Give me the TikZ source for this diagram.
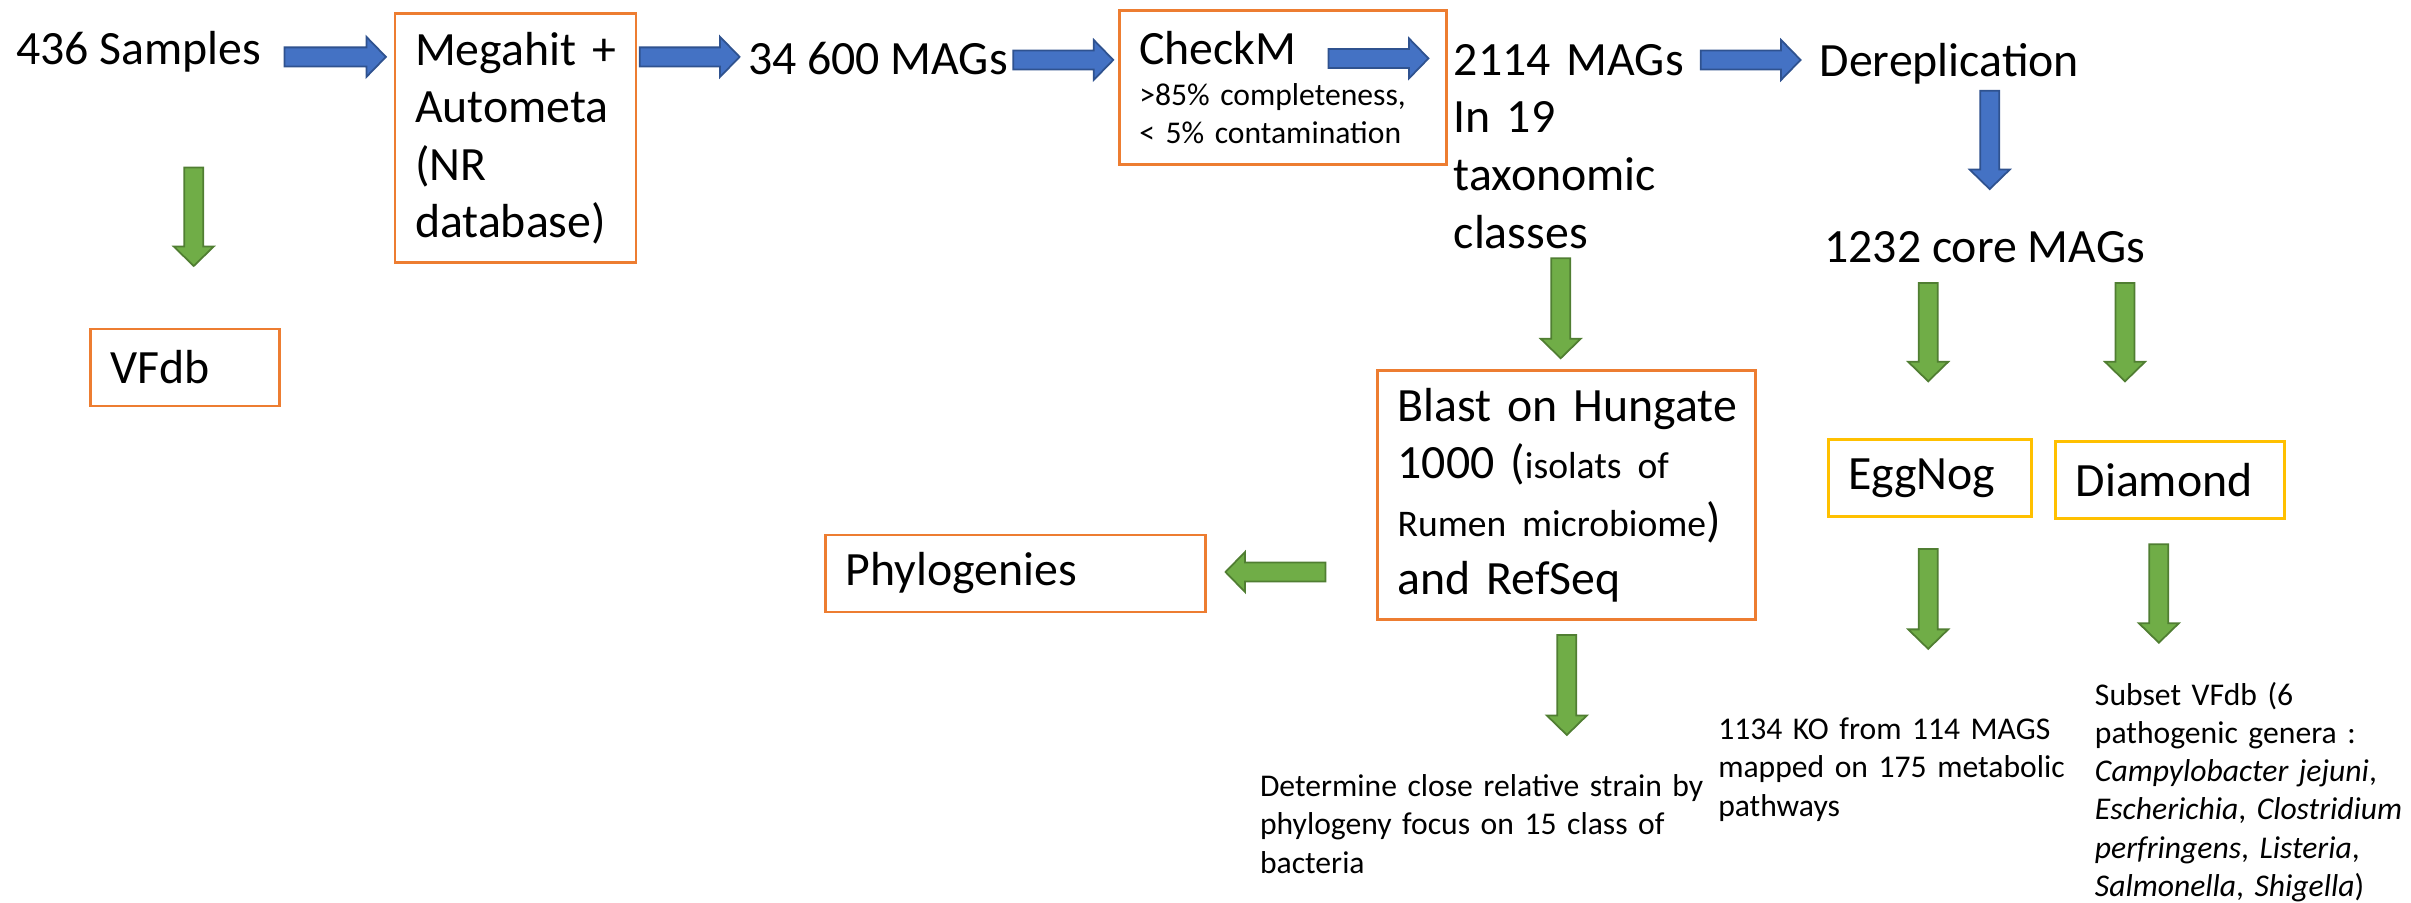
\documentclass[tikz,border=0pt]{standalone}
\usepackage{fontspec}
\setmainfont{Carlito}
\usetikzlibrary{calc,positioning}

\definecolor{boxorange}{HTML}{ED7D31}
\definecolor{boxgold}{HTML}{FFC000}
\definecolor{flowblue}{HTML}{4472C4}
\definecolor{flowblueedge}{HTML}{2F528F}
\definecolor{flowgreen}{HTML}{70AD47}
\definecolor{flowgreenedge}{HTML}{507E32}

\newcommand{\bigsize}{\fontsize{13.6pt}{16.4pt}\selectfont}
\newcommand{\midsize}{\fontsize{10.7pt}{12.8pt}\selectfont}
\newcommand{\notesize}{\fontsize{9pt}{10.9pt}\selectfont}
\newcommand{\shafthalf}{0.95mm}
\newcommand{\headhalf}{2mm}
\newcommand{\headlen}{1.95mm}

\tikzset{
	blockarrow/.style={line width=0.5pt, to path={
			($(\tikztostart)!\shafthalf!90:(\tikztotarget)$)
			-- ($(\tikztotarget)!\headlen!(\tikztostart)!\shafthalf!-90:(\tikztostart)$)
			-- ($(\tikztotarget)!\headlen!(\tikztostart)!\headhalf!-90:(\tikztostart)$)
			-- (\tikztotarget)
			-- ($(\tikztotarget)!\headlen!(\tikztostart)!\headhalf!90:(\tikztostart)$)
			-- ($(\tikztotarget)!\headlen!(\tikztostart)!\shafthalf!90:(\tikztostart)$)
			-- ($(\tikztostart)!\shafthalf!-90:(\tikztotarget)$)
			-- cycle}},
	bluearrow/.style={blockarrow, fill=flowblue, draw=flowblueedge},
	greenarrow/.style={blockarrow, fill=flowgreen, draw=flowgreenedge},
	flowtext/.style={font=\bigsize, anchor=base west, inner sep=0pt, align=left},
	note/.style={font=\notesize, anchor=base west, inner sep=0pt, align=left},
	stage/.style={draw=boxorange, line width=0.8pt, anchor=north west, align=left,
		inner xsep=2mm, inner ysep=0pt, font=\bigsize}
}

\begin{document}
\begin{tikzpicture}[x=0.15376mm, y=-0.15376mm]
	\useasboundingbox (0,0) rectangle (1568,587);
	
	%% -- Top row
	\node[flowtext] (samples) at (10,42) {436 Samples};
	
	\node[stage, minimum width=24.1mm, text width=20.1mm,
	minimum height=24.9mm] (megahit) at (256,8)
	{Megahit +\\Autometa\\(NR\\database)};
	
	\node[flowtext] (mags) at (486,48.5) {34 600 MAGs};
	
	\node[stage, minimum width=32.75mm, text width=28.75mm,
	minimum height=15.4mm, font=\notesize] (checkm) at (727,6)
	{{\bigsize CheckM}\\[0.9pt]>85\% completeness,\\< 5\% contamination};
	
	\node[flowtext, text width=25mm] (classes) at (945,49)
	{2114 MAGs\\In 19\\taxonomic\\classes};
	
	\node[flowtext] (derep) at (1183,50) {Dereplication};
	
	\node[flowtext] (core) at (1186,171) {1232 core MAGs};
	
	%% -- Left branch
	\node[stage, minimum width=18.9mm, text width=14.9mm,
	minimum height=7.7mm] (vfdb) at (58,213) {VFdb};
	
	%% -- Middle branch
	\node[stage, minimum width=37.8mm, text width=33.8mm,
	minimum height=24.9mm] (blast) at (895,240)
	{\mbox{Blast on Hungate}\\\mbox{1000 ({\midsize isolats of}}\\
		\mbox{{\midsize Rumen microbiome})}\\\mbox{and RefSeq}};
	
	\node[stage, minimum width=38mm, text width=34mm,
	minimum height=7.7mm] (phylo) at (536,347) {Phylogenies};
	
	\node[note, text width=48mm] (strain) at (819,518)
	{Determine close relative strain by\\phylogeny focus on 15 class of\\bacteria};
	
	%% -- Right branch
	\node[stage, draw=boxgold, minimum width=20.3mm, text width=16.3mm,
	minimum height=7.7mm] (eggnog) at (1188,285) {EggNog};
	
	\node[stage, draw=boxgold, minimum width=22.9mm, text width=18.9mm,
	minimum height=7.7mm] (diamond) at (1336,286) {Diamond};
	
	\node[note, text width=40mm] (kegg) at (1117,481)
	{1134 KO from 114 MAGS\\mapped on 175 metabolic\\pathways};
	
	\node[note, text width=34mm] (subset) at (1362,458.5)
	{Subset VFdb (6\\pathogenic genera :\\\textit{Campylobacter jejuni},\\
		\textit{Escherichia}, \textit{Clostridium}\\\textit{perfringens}, \textit{Listeria},\\
		\textit{Salmonella}, \textit{Shigella})};
	
	%% -- Arrow end points
	\coordinate (samples-out) at (185,37);    \coordinate (megahit-in) at (251,37);
	\coordinate (megahit-out) at (416,37);    \coordinate (mags-in) at (481,37);
	\coordinate (mags-out) at (659,39);       \coordinate (checkm-in) at (724,39);
	\coordinate (checkm-out) at (864,38);     \coordinate (classes-in) at (929,38);
	\coordinate (classes-out) at (1106,39);   \coordinate (derep-in) at (1171,39);
	\coordinate (derep-out) at (1294,59);     \coordinate (core-in) at (1294,123);
	\coordinate (samples-down) at (126,109);  \coordinate (vfdb-in) at (126,173);
	\coordinate (classes-down) at (1015,168); \coordinate (blast-in) at (1015,233);
	\coordinate (core-left) at (1254,184);    \coordinate (eggnog-in) at (1254,248);
	\coordinate (core-right) at (1382,184);   \coordinate (diamond-in) at (1382,248);
	\coordinate (blast-left) at (862,372);    \coordinate (phylo-in) at (797,372);
	\coordinate (blast-down) at (1019,413);   \coordinate (strain-in) at (1019,478);
	\coordinate (eggnog-down) at (1254,357);  \coordinate (kegg-in) at (1254,422);
	\coordinate (diamond-down) at (1404,354); \coordinate (subset-in) at (1404,418);
	
	%% -- Main pipeline (blue)
	\path[bluearrow] (samples-out) to (megahit-in);
	\path[bluearrow] (megahit-out) to (mags-in);
	\path[bluearrow] (mags-out) to (checkm-in);
	\path[bluearrow] (checkm-out) to (classes-in);
	\path[bluearrow] (classes-out) to (derep-in);
	\path[bluearrow] (derep-out) to (core-in);
	
	%% -- Annotation steps (green)
	\path[greenarrow] (samples-down) to (vfdb-in);
	\path[greenarrow] (classes-down) to (blast-in);
	\path[greenarrow] (core-left) to (eggnog-in);
	\path[greenarrow] (core-right) to (diamond-in);
	\path[greenarrow] (blast-left) to (phylo-in);
	\path[greenarrow] (blast-down) to (strain-in);
	\path[greenarrow] (eggnog-down) to (kegg-in);
	\path[greenarrow] (diamond-down) to (subset-in);
	
\end{tikzpicture}
\end{document}
